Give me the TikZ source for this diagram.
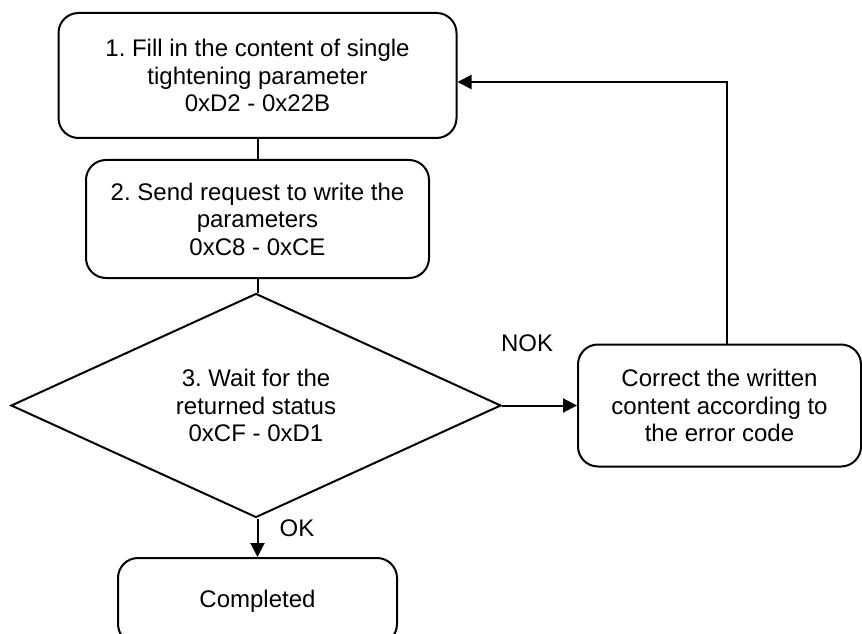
\documentclass[tikz,border=0pt]{standalone}
\usepackage{fontspec}
\setmainfont{Liberation Sans}
\usetikzlibrary{shapes.geometric,arrows.meta}
\frenchspacing
\begin{document}
\begin{tikzpicture}[x=0.75pt,y=-0.75pt,line width=1.5pt,
        every node/.style={font=\fontsize{18}{20.6}\selectfont,align=center,inner sep=0pt},
        stepbox/.style={draw,rounded corners=15pt},
        decision/.style={draw,diamond,aspect=2.2},
        flow/.style={-{Triangle[length=10.5pt,width=10.5pt]}}]
        \useasboundingbox (0,0) rectangle (862,634);
        \node [stepbox,minimum width=298.5pt,minimum height=93.75pt] (fill) at (257.5,75.5) {1. Fill in the content of single\\tightening parameter\\0xD2 - 0x22B};
        \node [stepbox,minimum width=257.25pt,minimum height=88.5pt] (send) at (257.5,219) {2. Send request to write the\\parameters\\0xC8 - 0xCE};
        \node [decision,minimum width=367.5pt,minimum height=168pt] (wait) at (256,405.5) {3. Wait for the\\returned status\\0xCF - 0xD1};
        \node [stepbox,minimum width=212.25pt,minimum height=91.5pt] (fix) at (719.5,405.5) {Correct the written\\content according to\\the error code};
        \node [stepbox,minimum width=209.25pt,minimum height=64.5pt] (done) at (257.5,601) {Completed};
        \node (nok) at (527,343) {NOK};
        \node (ok) at (297,528) {OK};
        \coordinate (back) at (727,82);
        \draw (fill.south) -- (send.north);
        \draw (send.south) -- (wait.north -| send.south);
        \draw [flow] (wait.east) -- (fix.west);
        \draw [flow] (wait.south -| done.north) -- (done.north);
        \draw [flow] (fix.north -| back) -- (back) -- (fill.east |- back);
    \end{tikzpicture}
\end{document}
